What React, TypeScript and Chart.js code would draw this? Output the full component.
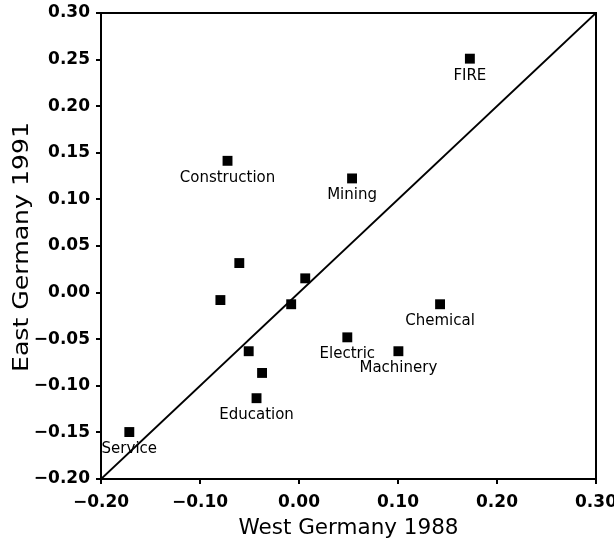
import React, { useEffect, useRef } from "react";
import { Chart, registerables } from "chart.js";

Chart.register(...registerables);

const industries = [
  "FIRE", "Construction", "Mining", "", "", "", "", "Chemical", "Electric",
  "Machinery", "", "", "Education", "Service",
];
const westGermany1988 = [
  0.1726, -0.0722, 0.0536, -0.0603, 0.0063, -0.0794, -0.0079, 0.1425, 0.0488,
  0.1004, -0.0508, -0.0373, -0.0429, -0.1714,
];
const eastGermany1991 = [
  0.251, 0.1414, 0.1225, 0.0317, 0.0153, -0.008, -0.0125, -0.0125, -0.048,
  -0.0629, -0.0629, -0.0862, -0.1133, -0.1496,
];
const diagonalLine = [-0.2, 0.3];

const xTickValues = [-0.2, -0.1, 0, 0.1, 0.2, 0.3];
const xTickLabels = ["\u22120.20", "\u22120.10", "0.00", "0.10", "0.20", "0.30"];
const yTickValues = [-0.2, -0.15, -0.1, -0.05, 0, 0.05, 0.1, 0.15, 0.2, 0.25, 0.3];
const yTickLabels = [
  "\u22120.20", "\u22120.15", "\u22120.10", "\u22120.05", "0.00", "0.05",
  "0.10", "0.15", "0.20", "0.25", "0.30",
];

const xTitle = "West Germany 1988";
const yTitle = "East Germany 1991";

const FONT = "'DejaVu Sans', sans-serif";

const framePlugin = {
  id: "frameAndLabels",
  afterDatasetsDraw(chart: any) {
    const { ctx, chartArea } = chart;
    ctx.save();
    ctx.strokeStyle = "#000";
    ctx.lineWidth = 2;
    ctx.beginPath();
    ctx.moveTo(chartArea.left, chartArea.top);
    ctx.lineTo(chartArea.right, chartArea.top);
    ctx.lineTo(chartArea.right, chartArea.bottom);
    ctx.stroke();

    const meta = chart.getDatasetMeta(0);
    ctx.fillStyle = "#000";
    ctx.font = `15px ${FONT}`;
    ctx.textAlign = "center";
    ctx.textBaseline = "middle";
    meta.data.forEach((el: any, i: number) => {
      const name = industries[i];
      if (!name) return;
      ctx.fillText(name, el.x, el.y + 17);
    });

    // stretched vertical axis title
    const size = 21.5;
    ctx.font = `${size}px ${FONT}`;
    const w = ctx.measureText(yTitle).width;
    const cy = (chartArea.top + chartArea.bottom) / 2 + 1;
    ctx.translate(20.5, cy);
    ctx.rotate(-Math.PI / 2);
    ctx.scale(250 / w, 1);
    ctx.textAlign = "center";
    ctx.textBaseline = "alphabetic";
    ctx.fillText(yTitle, 0, size * 0.729 / 2);
    ctx.restore();
  },
};

export default function App() {
  const canvasRef = useRef<HTMLCanvasElement | null>(null);

  useEffect(() => {
    if (!canvasRef.current) return;
    const points = westGermany1988.map((x, i) => ({ x, y: eastGermany1991[i] }));
    const chart = new Chart(canvasRef.current, {
      type: "scatter",
      data: {
        datasets: [
          {
            data: points,
            pointStyle: "rect",
            pointRadius: 7,
            pointHoverRadius: 7,
            backgroundColor: "#000",
            borderColor: "#000",
            borderWidth: 0,
          } as any,
          {
            type: "line",
            data: diagonalLine.map((v) => ({ x: v, y: v })),
            borderColor: "#000",
            borderWidth: 2,
            pointRadius: 0,
            showLine: true,
            fill: false,
          } as any,
        ],
      },
      options: {
        animation: false,
        responsive: true,
        maintainAspectRatio: false,
        layout: { padding: { left: 0, right: 18, top: 13, bottom: 0 } },
        plugins: { legend: { display: false }, tooltip: { enabled: false } },
        scales: {
          x: {
            type: "linear",
            min: -0.2,
            max: 0.3,
            afterBuildTicks: (s: any) => {
              s.ticks = xTickValues.map((v) => ({ value: v }));
            },
            afterFit: (s: any) => {
              s.height = 62;
              s.paddingLeft = 0;
              s.paddingRight = 0;
            },
            ticks: {
              autoSkip: false,
              maxRotation: 0,
              padding: 8,
              color: "#000",
              font: { family: FONT, size: 17, weight: "bold" },
              callback: (_v: any, i: number) => xTickLabels[i],
            },
            grid: {
              display: true,
              drawOnChartArea: false,
              drawTicks: true,
              tickLength: 5,
              color: "#000",
              lineWidth: 2,
            },
            border: { display: true, color: "#000", width: 2 },
            title: {
              display: true,
              text: xTitle,
              color: "#000",
              font: { family: FONT, size: 21.5 },
              padding: { top: 0, bottom: 0 },
            },
          } as any,
          y: {
            type: "linear",
            min: -0.2,
            max: 0.3,
            afterBuildTicks: (s: any) => {
              s.ticks = yTickValues.map((v) => ({ value: v }));
            },
            afterFit: (s: any) => {
              s.width = 101;
              s.paddingTop = 0;
              s.paddingBottom = 0;
            },
            ticks: {
              autoSkip: false,
              padding: 6,
              color: "#000",
              font: { family: FONT, size: 17, weight: "bold" },
              callback: (_v: any, i: number) => yTickLabels[i],
            },
            grid: {
              display: true,
              drawOnChartArea: false,
              drawTicks: true,
              tickLength: 5,
              color: "#000",
              lineWidth: 2,
            },
            border: { display: true, color: "#000", width: 2 },
            title: { display: false },
          } as any,
        },
      },
      plugins: [framePlugin],
    });
    return () => chart.destroy();
  }, []);

  return (
    <div
      style={{
        position: "fixed",
        left: 0,
        top: 0,
        width: 614,
        height: 541,
        background: "#fff",
      }}
    >
      <canvas ref={canvasRef} />
    </div>
  );
}
